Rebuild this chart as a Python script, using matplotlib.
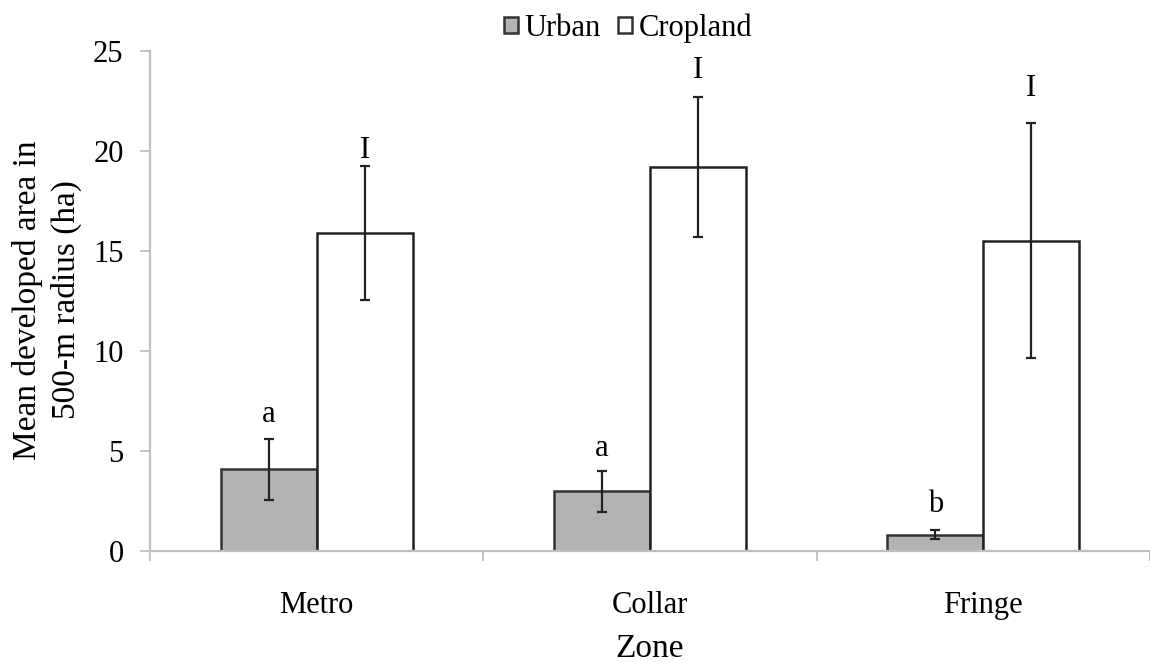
import matplotlib
matplotlib.use("Agg")
import matplotlib.pyplot as plt
import numpy as np
from matplotlib.patches import Patch

# Mean developed area (ha) within a 500-m radius, by zone and land-use type
zones = ["Metro", "Collar", "Fringe"]
urban_mean = [4.1, 3.0, 0.8]
urban_upper = [5.6, 4.0, 1.05]
urban_lower = [2.55, 1.95, 0.6]
crop_mean = [15.9, 19.2, 15.5]
crop_upper = [19.25, 22.7, 21.4]
crop_lower = [12.55, 15.7, 9.65]
urban_letters = ["a", "a", "b"]
crop_letters = ["I", "I", "I"]
urban_letter_y = [6.85, 5.1, 2.3]
crop_letter_y = [20.05, 24.05, 23.15]

plt.rcParams["font.family"] = ["Liberation Serif", "DejaVu Serif"]
FS = 22

fig = plt.figure(figsize=(11.5, 6.62), dpi=100)
ax = fig.add_axes([150 / 1150, 1 - 551 / 662, 1000 / 1150, 500 / 662])

x = np.arange(len(zones))
w = 0.288
ue = [np.subtract(urban_mean, urban_lower), np.subtract(urban_upper, urban_mean)]
ce = [np.subtract(crop_mean, crop_lower), np.subtract(crop_upper, crop_mean)]

err_kw = dict(ecolor="#222222", elinewidth=1.6, capsize=3.5, capthick=1.6)
ax.bar(x - w / 2, urban_mean, w, color="#b3b3b3", edgecolor="#333333",
       linewidth=1.8, yerr=ue, error_kw=err_kw, zorder=2)
ax.bar(x + w / 2, crop_mean, w, color="white", edgecolor="#222222",
       linewidth=1.8, yerr=ce, error_kw=err_kw, zorder=2)

for xi, lab, yy in zip(x - w / 2, urban_letters, urban_letter_y):
    ax.text(xi, yy, lab, ha="center", va="center", fontsize=FS)
for xi, lab, yy in zip(x + w / 2, crop_letters, crop_letter_y):
    ax.text(xi, yy, lab, ha="center", va="center", fontsize=FS)

ax.set_xlim(-0.5, len(zones) - 0.5)
ax.set_ylim(0, 25)
ax.set_yticks(np.arange(0, 26, 5))
ax.set_xticks(x)
ax.set_xticklabels(zones, fontsize=FS)
ax.set_xticks(np.arange(-0.5, len(zones), 1.0), minor=True)
ax.tick_params(axis="x", which="major", length=0, pad=29)
ax.tick_params(axis="x", which="minor", length=7, width=1.3, color="#bfbfbf")
ax.tick_params(axis="y", labelsize=FS, length=7, width=1.3, color="#bfbfbf", pad=12)

for side in ["top", "right"]:
    ax.spines[side].set_visible(False)
for side in ["left", "bottom"]:
    ax.spines[side].set_color("#bfbfbf")
    ax.spines[side].set_linewidth(1.6)
ax.set_axisbelow(False)

fig.text(47 / 1150, 1 - 300 / 662, "Mean developed area in\n500-m radius (ha)",
         rotation=90, ha="center", va="center", fontsize=24, linespacing=1.3)
fig.text(650 / 1150, 1 - 649 / 662, "Zone", ha="center", va="center", fontsize=FS + 2)

handles = [Patch(facecolor="#b3b3b3", edgecolor="#333333", linewidth=1.8),
           Patch(facecolor="white", edgecolor="#333333", linewidth=1.8)]
fig.legend(handles, ["Urban", "Cropland"], loc="center",
           bbox_to_anchor=(628 / 1150, 1 - 28 / 662), ncol=2, frameon=False,
           fontsize=FS, handlelength=0.45, handleheight=0.45, handletextpad=0.2,
           columnspacing=0.6, borderpad=0)

fig.savefig("out.png", dpi=100)
